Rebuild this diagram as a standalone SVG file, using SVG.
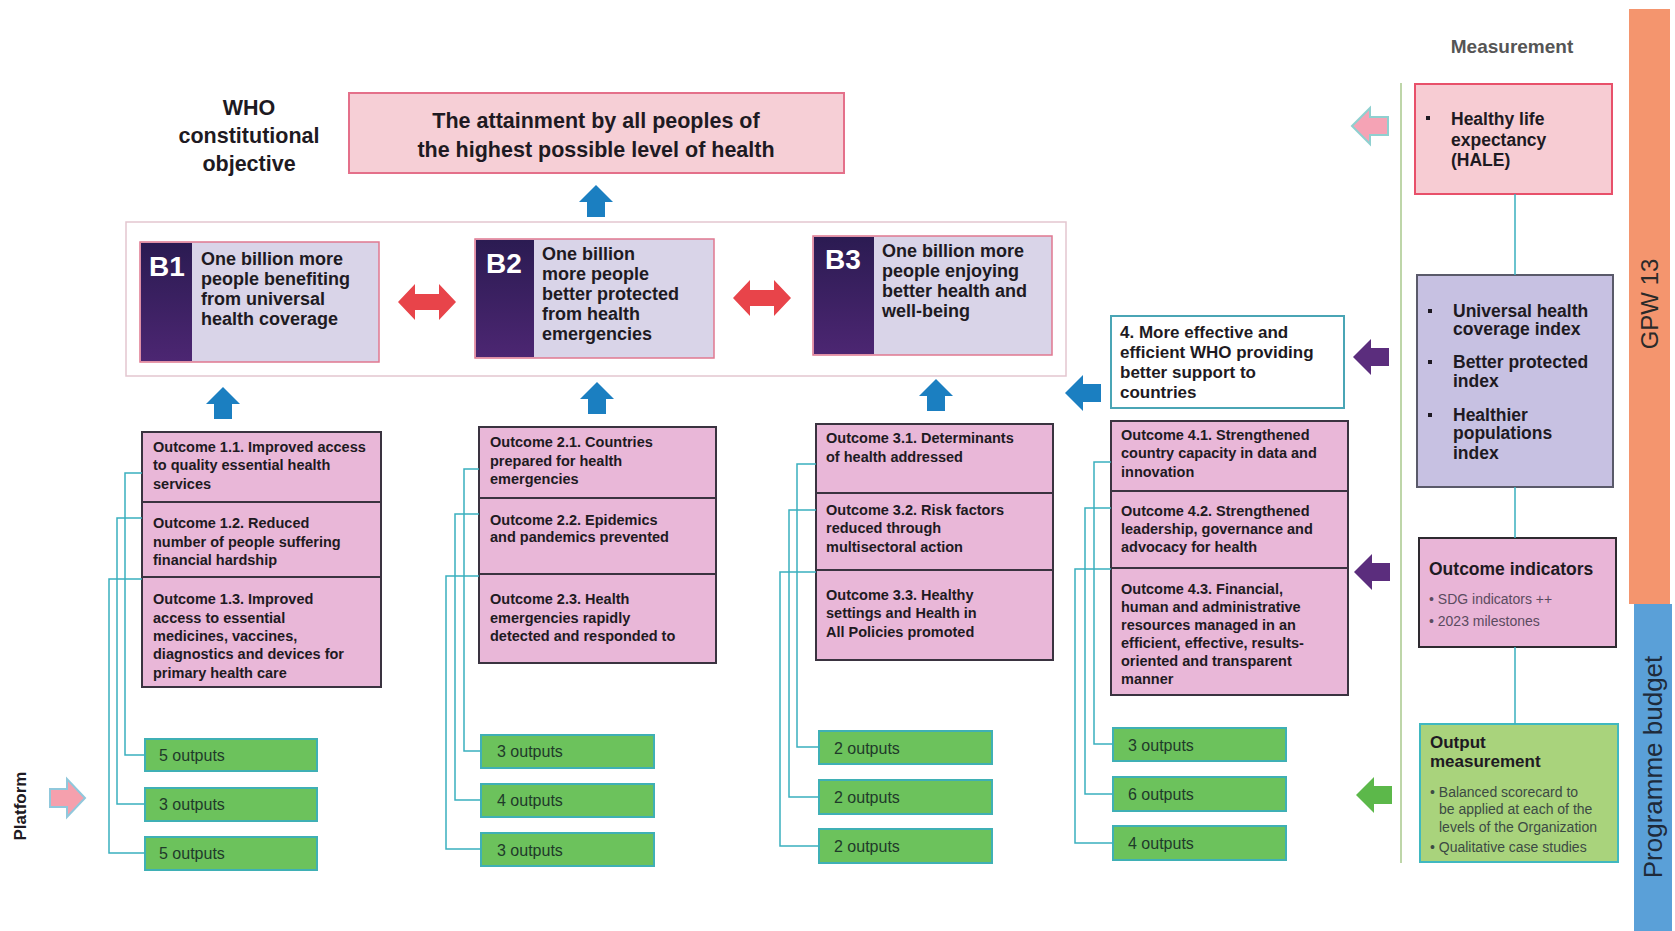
<svg xmlns="http://www.w3.org/2000/svg" width="1675" height="931" viewBox="0 0 1675 931">
<defs>
<style>
text{font-family:"Liberation Sans",Arial,sans-serif;fill:#1e1a22}
.b{font-weight:bold}
.who{font-size:21.5px;font-weight:bold;text-anchor:middle}
.ttl{font-size:21.5px;font-weight:bold;text-anchor:middle}
.btxt{font-size:18px;font-weight:bold}
.blab{font-size:28px;font-weight:bold;fill:#ffffff;text-anchor:middle}
.bbox{fill:#d9d4e8;stroke:#e07890;stroke-width:1.5}
.bdark{fill:url(#gp)}
.oc{fill:#e9b7d8;stroke:#3a3340;stroke-width:2}
.octxt{font-size:14.5px;font-weight:bold}
.out{fill:#6cc25c;stroke:#3fb0b5;stroke-width:2}
.outtxt{font-size:16px;fill:#1f3a2a}
.con{fill:none;stroke:#3ab0bf;stroke-width:1.5}
.mtxt{font-size:17.5px;font-weight:bold}
.sm{font-size:14px}
</style>
<linearGradient id="gp" x1="0" y1="0" x2="0" y2="1">
<stop offset="0" stop-color="#2b1b52"/>
<stop offset="1" stop-color="#4c2672"/>
</linearGradient>
<path id="up" d="M0,-16 L17,1 L9,1 L9,16 L-9,16 L-9,1 L-17,1 Z" fill="#1b7fc1"/>
<path id="left" d="M-18,0 L0,-18 L0,-9 L18,-9 L18,9 L0,9 L0,18 Z"/>
<path id="dbl" d="M-29,0 L-12,-18 L-12,-8 L12,-8 L12,-18 L29,0 L12,18 L12,8 L-12,8 L-12,18 Z" fill="#e8444a"/>
</defs>
<rect width="1675" height="931" fill="#ffffff"/>

<g id="who-label">
<text class="who" x="249" y="115">WHO</text>
<text class="who" x="249" y="143">constitutional</text>
<text class="who" x="249" y="171">objective</text>
</g>

<g id="objective">
<rect x="349" y="93" width="495" height="80" fill="#f6cfd6" stroke="#e4708a" stroke-width="2"/>
<text class="ttl" x="596" y="128">The attainment by all peoples of</text>
<text class="ttl" x="596" y="157">the highest possible level of health</text>
</g>

<g id="billions-frame">
<rect x="126" y="222" width="940" height="154" fill="#ffffff" stroke="#e3c6cf" stroke-width="1.5"/>
</g>

<g id="b1">
<rect class="bbox" x="140" y="242" width="239" height="120"/>
<rect class="bdark" x="141" y="243" width="51" height="118"/>
<text class="blab" x="167" y="276">B1</text>
<text class="btxt" x="201" y="265">One billion more</text>
<text class="btxt" x="201" y="285">people benefiting</text>
<text class="btxt" x="201" y="305">from universal</text>
<text class="btxt" x="201" y="325">health coverage</text>
</g>

<g id="b2">
<rect class="bbox" x="475" y="239" width="239" height="119"/>
<rect class="bdark" x="476" y="240" width="58" height="117"/>
<text class="blab" x="504" y="273">B2</text>
<text class="btxt" x="542" y="260">One billion</text>
<text class="btxt" x="542" y="280">more people</text>
<text class="btxt" x="542" y="300">better protected</text>
<text class="btxt" x="542" y="320">from health</text>
<text class="btxt" x="542" y="340">emergencies</text>
</g>

<g id="b3">
<rect class="bbox" x="813" y="236" width="239" height="119"/>
<rect class="bdark" x="814" y="237" width="60" height="117"/>
<text class="blab" x="843" y="269">B3</text>
<text class="btxt" x="882" y="257">One billion more</text>
<text class="btxt" x="882" y="277">people enjoying</text>
<text class="btxt" x="882" y="297">better health and</text>
<text class="btxt" x="882" y="317">well-being</text>
</g>

<g id="pillar4">
<rect x="1111" y="316" width="233" height="92" fill="#ffffff" stroke="#4aa5b5" stroke-width="2"/>
<text class="b" x="1120" y="338" font-size="17">4. More effective and</text>
<text class="b" x="1120" y="358" font-size="17">efficient WHO providing</text>
<text class="b" x="1120" y="378" font-size="17">better support to</text>
<text class="b" x="1120" y="398" font-size="17">countries</text>
</g>

<g id="outcomes-1">
<rect class="oc" x="142" y="432" width="239" height="70"/>
<rect class="oc" x="142" y="502" width="239" height="75"/>
<rect class="oc" x="142" y="577" width="239" height="110"/>
<text class="octxt" x="153" y="452">Outcome 1.1. Improved access</text>
<text class="octxt" x="153" y="470">to quality essential health</text>
<text class="octxt" x="153" y="489">services</text>
<text class="octxt" x="153" y="528">Outcome 1.2. Reduced</text>
<text class="octxt" x="153" y="547">number of people suffering</text>
<text class="octxt" x="153" y="565">financial hardship</text>
<text class="octxt" x="153" y="604">Outcome 1.3. Improved</text>
<text class="octxt" x="153" y="623">access to essential</text>
<text class="octxt" x="153" y="641">medicines, vaccines,</text>
<text class="octxt" x="153" y="659">diagnostics and devices for</text>
<text class="octxt" x="153" y="678">primary health care</text>
</g>

<g id="outcomes-2">
<rect class="oc" x="479" y="427" width="237" height="71"/>
<rect class="oc" x="479" y="498" width="237" height="76"/>
<rect class="oc" x="479" y="574" width="237" height="89"/>
<text class="octxt" x="490" y="447">Outcome 2.1. Countries</text>
<text class="octxt" x="490" y="466">prepared for health</text>
<text class="octxt" x="490" y="484">emergencies</text>
<text class="octxt" x="490" y="525">Outcome 2.2. Epidemics</text>
<text class="octxt" x="490" y="542">and pandemics prevented</text>
<text class="octxt" x="490" y="604">Outcome 2.3. Health</text>
<text class="octxt" x="490" y="623">emergencies rapidly</text>
<text class="octxt" x="490" y="641">detected and responded to</text>
</g>

<g id="outcomes-3">
<rect class="oc" x="816" y="424" width="237" height="69"/>
<rect class="oc" x="816" y="493" width="237" height="77"/>
<rect class="oc" x="816" y="570" width="237" height="90"/>
<text class="octxt" x="826" y="443">Outcome 3.1. Determinants</text>
<text class="octxt" x="826" y="462">of health addressed</text>
<text class="octxt" x="826" y="515">Outcome 3.2. Risk factors</text>
<text class="octxt" x="826" y="533">reduced through</text>
<text class="octxt" x="826" y="552">multisectoral action</text>
<text class="octxt" x="826" y="600">Outcome 3.3. Healthy</text>
<text class="octxt" x="826" y="618">settings and Health in</text>
<text class="octxt" x="826" y="637">All Policies promoted</text>
</g>

<g id="outcomes-4">
<rect class="oc" x="1111" y="421" width="237" height="70"/>
<rect class="oc" x="1111" y="491" width="237" height="77"/>
<rect class="oc" x="1111" y="568" width="237" height="127"/>
<text class="octxt" x="1121" y="440">Outcome 4.1. Strengthened</text>
<text class="octxt" x="1121" y="458">country capacity in data and</text>
<text class="octxt" x="1121" y="477">innovation</text>
<text class="octxt" x="1121" y="516">Outcome 4.2. Strengthened</text>
<text class="octxt" x="1121" y="534">leadership, governance and</text>
<text class="octxt" x="1121" y="552">advocacy for health</text>
<text class="octxt" x="1121" y="594">Outcome 4.3. Financial,</text>
<text class="octxt" x="1121" y="612">human and administrative</text>
<text class="octxt" x="1121" y="630">resources managed in an</text>
<text class="octxt" x="1121" y="648">efficient, effective, results-</text>
<text class="octxt" x="1121" y="666">oriented and transparent</text>
<text class="octxt" x="1121" y="684">manner</text>
</g>

<g id="outputs-1">
<rect class="out" x="145" y="739" width="172" height="32"/>
<rect class="out" x="145" y="788" width="172" height="33"/>
<rect class="out" x="145" y="837" width="172" height="33"/>
<text class="outtxt" x="159" y="761">5 outputs</text>
<text class="outtxt" x="159" y="810">3 outputs</text>
<text class="outtxt" x="159" y="859">5 outputs</text>
</g>
<g id="outputs-2">
<rect class="out" x="481" y="735" width="173" height="33"/>
<rect class="out" x="481" y="784" width="173" height="33"/>
<rect class="out" x="481" y="833" width="173" height="33"/>
<text class="outtxt" x="497" y="757">3 outputs</text>
<text class="outtxt" x="497" y="806">4 outputs</text>
<text class="outtxt" x="497" y="856">3 outputs</text>
</g>
<g id="outputs-3">
<rect class="out" x="819" y="731" width="173" height="33"/>
<rect class="out" x="819" y="780" width="173" height="34"/>
<rect class="out" x="819" y="829" width="173" height="34"/>
<text class="outtxt" x="834" y="754">2 outputs</text>
<text class="outtxt" x="834" y="803">2 outputs</text>
<text class="outtxt" x="834" y="852">2 outputs</text>
</g>
<g id="outputs-4">
<rect class="out" x="1113" y="728" width="173" height="33"/>
<rect class="out" x="1113" y="777" width="173" height="34"/>
<rect class="out" x="1113" y="826" width="173" height="34"/>
<text class="outtxt" x="1128" y="751">3 outputs</text>
<text class="outtxt" x="1128" y="800">6 outputs</text>
<text class="outtxt" x="1128" y="849">4 outputs</text>
</g>

<g id="measurement-title">
<text class="b" x="1512" y="53" font-size="19" text-anchor="middle" style="fill:#555555">Measurement</text>
</g>

<g id="hale">
<rect x="1415" y="84" width="197" height="110" fill="#f7ccd3" stroke="#e8506a" stroke-width="2"/>
<rect x="1426" y="116" width="4" height="4" fill="#1e1a22"/>
<text class="mtxt" x="1451" y="125">Healthy life</text>
<text class="mtxt" x="1451" y="146">expectancy</text>
<text class="mtxt" x="1451" y="166">(HALE)</text>
</g>

<g id="indices">
<rect x="1417" y="275" width="196" height="212" fill="#c7c1e2" stroke="#5a5a6a" stroke-width="2"/>
<rect x="1428" y="309" width="4" height="4" fill="#1e1a22"/>
<rect x="1428" y="360" width="4" height="4" fill="#1e1a22"/>
<rect x="1428" y="413" width="4" height="4" fill="#1e1a22"/>
<text class="mtxt" x="1453" y="317">Universal health</text>
<text class="mtxt" x="1453" y="335">coverage index</text>
<text class="mtxt" x="1453" y="368">Better protected</text>
<text class="mtxt" x="1453" y="387">index</text>
<text class="mtxt" x="1453" y="421">Healthier</text>
<text class="mtxt" x="1453" y="439">populations</text>
<text class="mtxt" x="1453" y="459">index</text>
</g>

<g id="outcome-indicators">
<rect x="1419" y="538" width="197" height="109" fill="#e9b5d7" stroke="#2e2a30" stroke-width="2"/>
<text class="b" x="1429" y="575" font-size="17.5">Outcome indicators</text>
<text class="sm" x="1429" y="604" style="fill:#5b4b60">• SDG indicators ++</text>
<text class="sm" x="1429" y="626" style="fill:#5b4b60">• 2023 milestones</text>
</g>

<g id="output-measurement">
<rect x="1420" y="724" width="198" height="138" fill="#a9d37c" stroke="#40b8c0" stroke-width="2"/>
<text class="b" x="1430" y="748" font-size="17">Output</text>
<text class="b" x="1430" y="767" font-size="17">measurement</text>
<text class="sm" x="1430" y="797" style="fill:#3c4a44">• Balanced scorecard to</text>
<text class="sm" x="1439" y="814" style="fill:#3c4a44">be applied at each of the</text>
<text class="sm" x="1439" y="832" style="fill:#3c4a44">levels of the Organization</text>
<text class="sm" x="1430" y="852" style="fill:#3c4a44">• Qualitative case studies</text>
</g>

<g id="gpw13">
<rect x="1629" y="9" width="41" height="595" fill="#f4956e"/>
<text x="1658" y="304" font-size="24" text-anchor="middle" transform="rotate(-90 1658 304)" style="fill:#2a2a2a">GPW 13</text>
</g>

<g id="programme-budget">
<rect x="1634" y="604" width="38" height="327" fill="#5aa0d8"/>
<text x="1662" y="767" font-size="26" text-anchor="middle" transform="rotate(-90 1662 767)" style="fill:#1e2a3a">Programme budget</text>
</g>

<g id="platform">
<text class="b" x="26" y="806" font-size="17" text-anchor="middle" transform="rotate(-90 26 806)">Platform</text>
<path d="M50,789 L67,789 L67,779 L85,798 L67,817 L67,807 L50,807 Z" fill="#f5a0ad" stroke="#90c8dc" stroke-width="2"/>
</g>

<g id="arrows">
<use href="#up" x="596" y="201"/>
<use href="#up" x="223" y="403"/>
<use href="#up" x="597" y="398"/>
<use href="#up" x="936" y="395"/>
<use href="#dbl" x="427" y="302"/>
<use href="#dbl" x="762" y="298"/>
<use href="#left" x="1083" y="393" fill="#1b7fc1"/>
<use href="#left" x="1370" y="126" fill="#f5a3b5" stroke="#8fd0d0" stroke-width="2"/>
<use href="#left" x="1371" y="357" fill="#5b2d7d"/>
<use href="#left" x="1372" y="572" fill="#5b2d7d"/>
<use href="#left" x="1374" y="795" fill="#5cb84a"/>
</g>

<g id="connectors">
<path class="con" d="M142,473 H125 V755 H145"/>
<path class="con" d="M142,518 H117 V804 H145"/>
<path class="con" d="M142,579 H109 V853 H145"/>
<path class="con" d="M479,469 H464 V751 H481"/>
<path class="con" d="M479,514 H455 V800 H481"/>
<path class="con" d="M479,576 H446 V849 H481"/>
<path class="con" d="M816,464 H797 V747 H819"/>
<path class="con" d="M816,510 H789 V797 H819"/>
<path class="con" d="M816,572 H780 V846 H819"/>
<path class="con" d="M1111,462 H1094 V744 H1113"/>
<path class="con" d="M1111,508 H1085 V794 H1113"/>
<path class="con" d="M1111,569 H1075 V843 H1113"/>
<path class="con" d="M1515,194 V275 M1515,487 V538 M1515,647 V724"/>
<path d="M1401,83 V863" fill="none" stroke="#a9c98c" stroke-width="1.5"/>
</g>
</svg>
